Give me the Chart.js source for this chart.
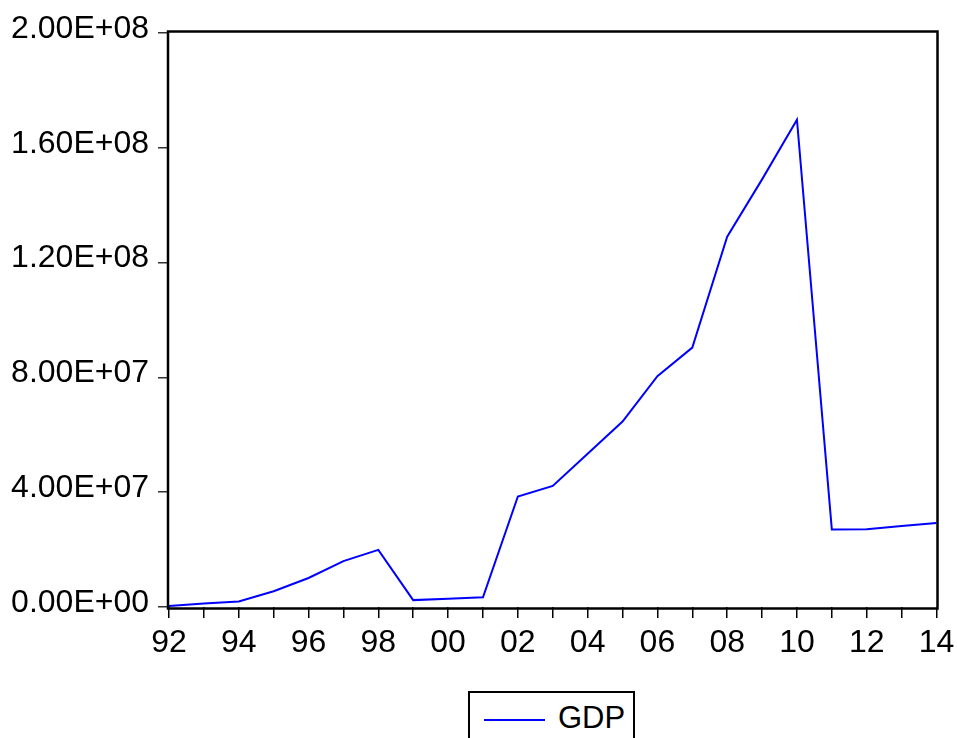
<!DOCTYPE html>
<html>
<head>
<meta charset="utf-8">
<script src="https://cdn.jsdelivr.net/npm/chart.js@4/dist/chart.umd.min.js"></script>
<style>
  body { margin: 0; background: #fff; }
  #wrap { position: relative; width: 957px; height: 738px; overflow: hidden; }
  #legend {
    position: absolute; left: 468px; top: 691px; width: 167px; height: 60px;
    border: 2px solid #000; box-sizing: border-box; background: #fff;
    font-family: Arial, "Liberation Sans", sans-serif; font-size: 31px; color: #000;
  }
  #legend .ln { position: absolute; left: 14px; top: 26px; width: 61px; height: 2px; background: #0000ff; }
  #legend .tx { position: absolute; left: 88px; top: 9px; line-height: 31px; }
</style>
</head>
<body>
<div id="wrap">
  <canvas id="gdpChart" width="957" height="738"></canvas>
  <div id="legend"><span class="ln"></span><span class="tx">GDP</span></div>
</div>
<script>
// years 1992-2014, two-digit labels
const years = ["92", "93", "94", "95", "96", "97", "98", "99", "00", "01", "02", "03",
  "04", "05", "06", "07", "08", "09", "10", "11", "12", "13", "14"];
const gdp = [350000, 1200000, 1900000, 5500000, 10100000, 16000000, 19900000,
  2400000, 2900000, 3400000, 38500000, 42200000, 53400000, 64600000, 80400000,
  90400000, 129000000, 149000000, 169800000, 27000000, 27100000, 28200000, 29300000];
const yMin = 0;
const yMax = 200000000;
const yStep = 40000000;

// EViews style numbers: 2.00E+08
function sciLabel(v) {
  const parts = Number(v).toExponential(2).split("e");
  const exp = parts[1];
  return parts[0] + "E" + exp[0] + exp.slice(1).padStart(2, "0");
}

// full frame around the plot area
const framePlugin = {
  id: "frame",
  afterDraw(chart) {
    const a = chart.chartArea;
    const ctx = chart.ctx;
    ctx.save();
    ctx.strokeStyle = "#000";
    ctx.lineWidth = 2.5;
    ctx.strokeRect(a.left - 1, a.top - 1.5, a.right - a.left + 2, a.bottom - a.top + 3);
    ctx.restore();
  }
};

const ctx = document.getElementById("gdpChart").getContext("2d");
new Chart(ctx, {
  type: "line",
  data: {
    labels: years,
    datasets: [{
      label: "GDP",
      data: gdp,
      borderColor: "#0000ff",
      borderWidth: 2,
      pointRadius: 0,
      tension: 0,
      fill: false
    }]
  },
  options: {
    responsive: false,
    animation: false,
    devicePixelRatio: 1,
    layout: { padding: { left: 0, top: 33, right: 20.5, bottom: 0 } },
    plugins: { legend: { display: false }, tooltip: { enabled: false } },
    scales: {
      x: {
        type: "category",
        offset: false,
        border: { display: false },
        grid: {
          drawOnChartArea: false,
          drawTicks: true,
          tickLength: 11,
          color: "#000",
          lineWidth: 1.5
        },
        ticks: {
          autoSkip: false,
          maxRotation: 0,
          padding: 6,
          color: "#000",
          font: { family: "Arial, 'Liberation Sans', sans-serif", size: 32 },
          callback: function (val, i) { return i % 2 === 0 ? years[i] : ""; }
        },
        afterFit: function (scale) {
          scale.height = 131;
          scale.paddingLeft = 0;
          scale.paddingRight = 0;
        }
      },
      y: {
        min: yMin,
        max: yMax,
        border: { display: false },
        grid: {
          drawOnChartArea: false,
          drawTicks: true,
          tickLength: 11,
          color: "#333",
          lineWidth: 1.5
        },
        ticks: {
          stepSize: yStep,
          padding: 9,
          labelOffset: -4,
          color: "#000",
          font: { family: "Arial, 'Liberation Sans', sans-serif", size: 32 },
          callback: function (v) { return sciLabel(v); }
        },
        afterFit: function (scale) {
          scale.width = 169;
          scale.paddingTop = 0;
          scale.paddingBottom = 0;
        }
      }
    }
  },
  plugins: [framePlugin]
});
</script>
</body>
</html>
